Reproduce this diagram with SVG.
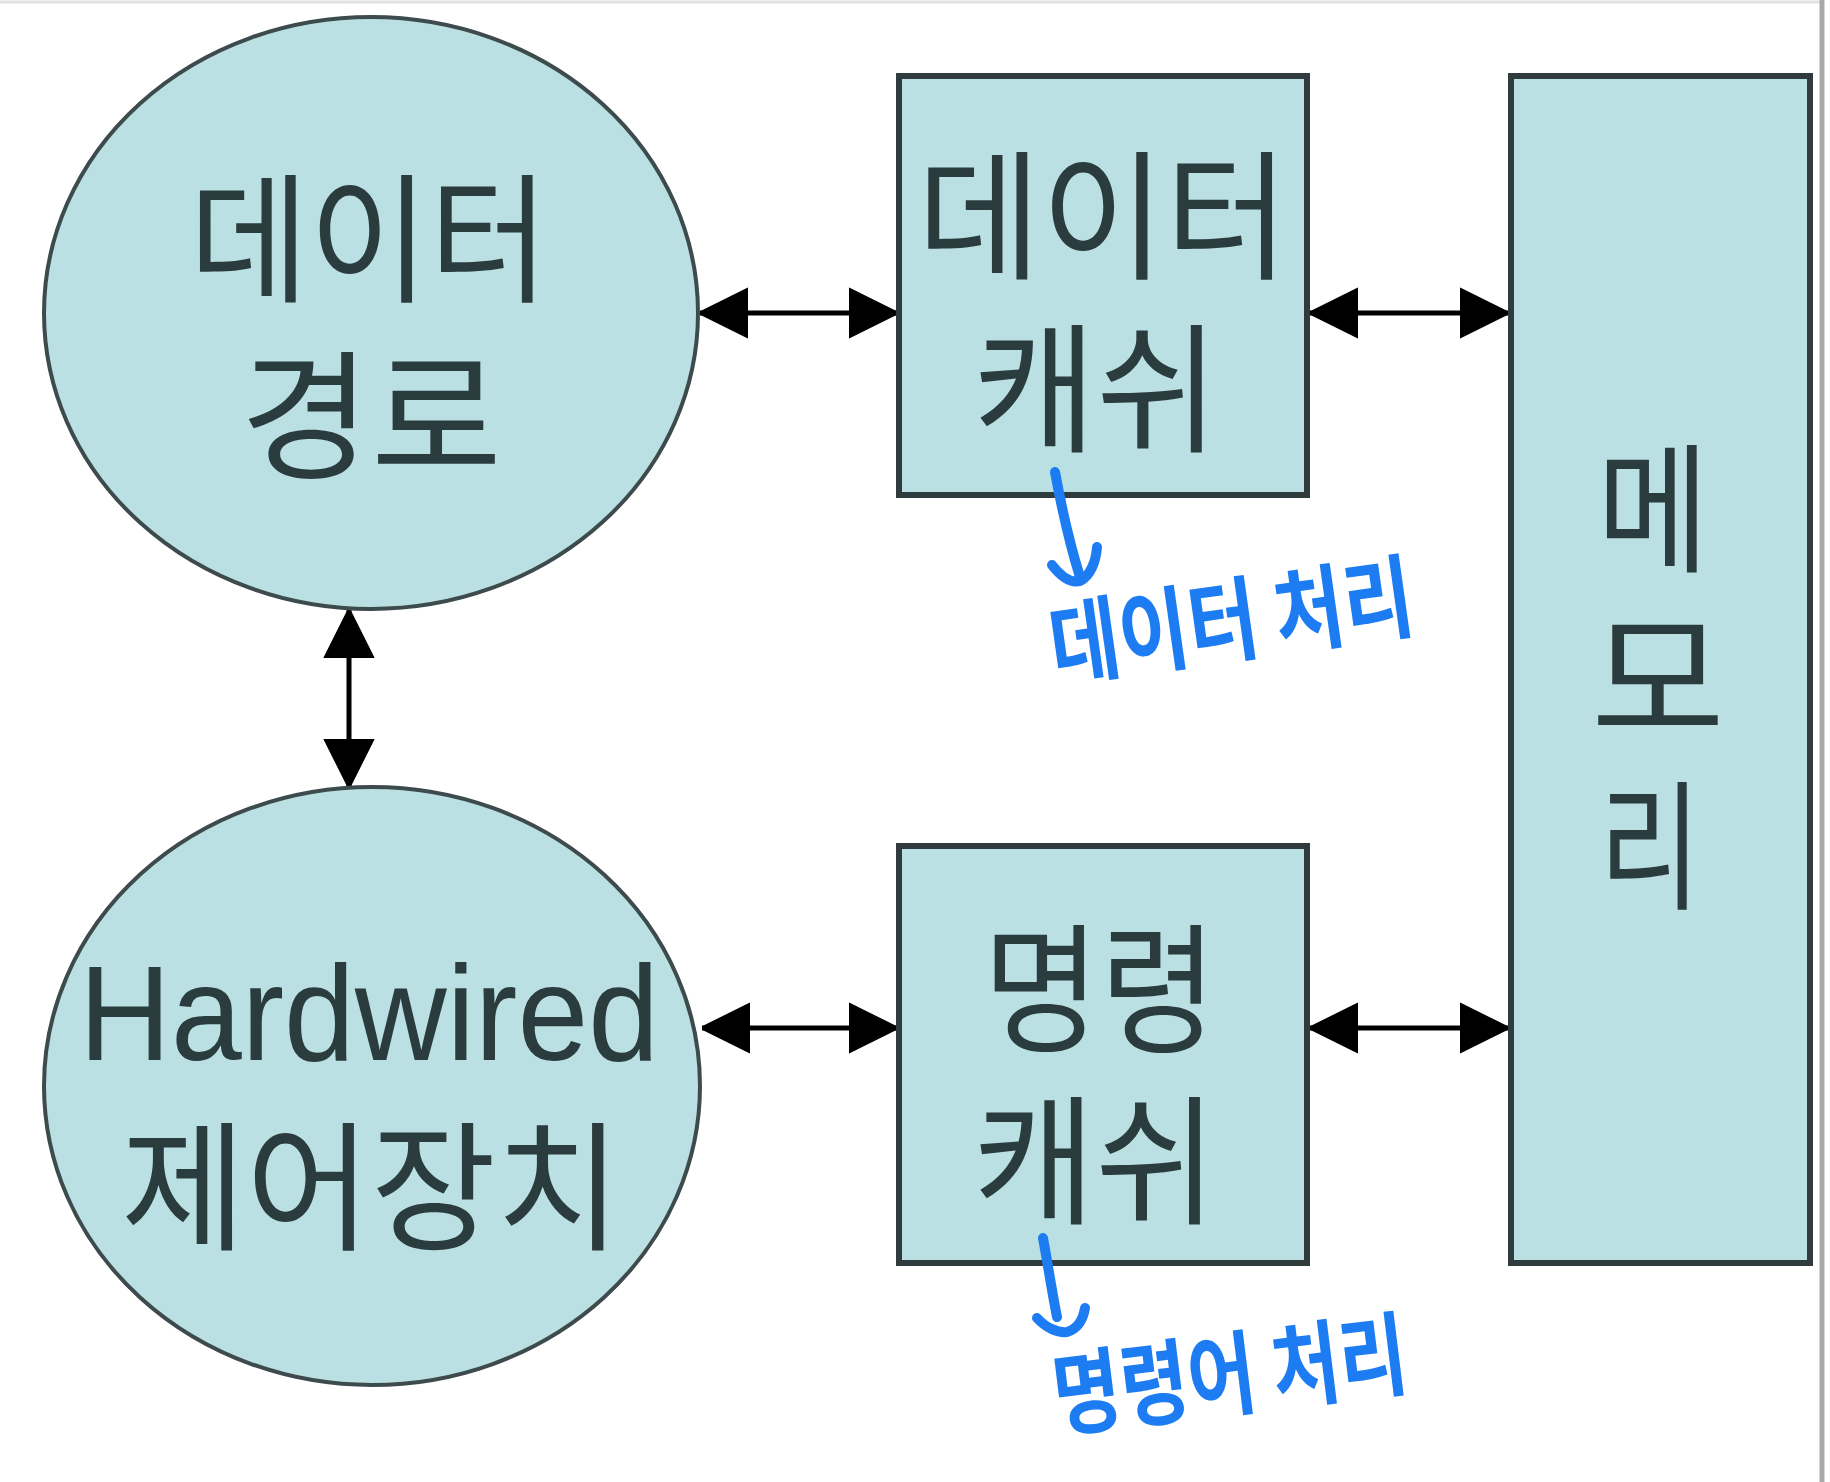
<svg xmlns="http://www.w3.org/2000/svg" width="1830" height="1482" viewBox="0 0 1830 1482">
<style>
.shape{fill:#bbe0e4;}
.ell{stroke:#3e4b4d;stroke-width:4;}
.box{stroke:#2f3b3d;stroke-width:6;}
.lbl{font-family:"Noto Sans CJK KR","Noto Sans",sans-serif;font-size:140px;fill:#2b3c3f;text-anchor:middle;}
.en{font-family:"Liberation Sans",Arial,sans-serif;font-size:135px;fill:#2b3c3f;text-anchor:middle;}
.conn{stroke:#000;stroke-width:5;fill:none;marker-start:url(#ah);marker-end:url(#ah);}
.note{font-family:"Noto Sans CJK KR","Noto Sans",sans-serif;font-weight:700;font-size:92px;fill:#1d7cf2;text-anchor:middle;}
.pen{stroke:#1d7cf2;stroke-width:10;fill:none;stroke-linecap:round;stroke-linejoin:round;}
</style>
<defs>
<marker id="ah" viewBox="0 0 48 52" refX="48" refY="26" markerWidth="48" markerHeight="52" markerUnits="userSpaceOnUse" orient="auto-start-reverse">
<path d="M0,2 L48,26 L0,50 z" fill="#000" stroke="#000" stroke-width="3" stroke-linejoin="round"/>
</marker>
</defs>
<rect x="0" y="0" width="1830" height="1482" fill="#ffffff"/>
<line x1="0" y1="2" x2="1822" y2="2" stroke="#e2e2e2" stroke-width="3"/>
<line x1="1822" y1="0" x2="1822" y2="1482" stroke="#a9a9a9" stroke-width="5"/>

<g id="connectors">
<line class="conn" x1="700" y1="313" x2="897" y2="313"/>
<line class="conn" x1="1310" y1="313" x2="1508" y2="313"/>
<line class="conn" x1="702" y1="1028" x2="897" y2="1028"/>
<line class="conn" x1="1310" y1="1028" x2="1508" y2="1028"/>
<line class="conn" x1="349" y1="610" x2="349" y2="787"/>
</g>

<g id="node-datapath">
<ellipse class="shape ell" cx="371" cy="313" rx="327" ry="296"/>
<text class="lbl" x="369" y="291" textLength="360" lengthAdjust="spacingAndGlyphs">데이터</text>
<text class="lbl" x="371" y="468" textLength="262" lengthAdjust="spacingAndGlyphs">경로</text>
</g>

<g id="node-control">
<ellipse class="shape ell" cx="372" cy="1086" rx="328" ry="299"/>
<text class="en" x="369" y="1060" textLength="580" lengthAdjust="spacingAndGlyphs">Hardwired</text>
<text class="lbl" x="371" y="1239" textLength="500" lengthAdjust="spacingAndGlyphs">제어장치</text>
</g>

<g id="node-dcache">
<rect class="shape box" x="899" y="76" width="408" height="419"/>
<text class="lbl" x="1103" y="268" textLength="372" lengthAdjust="spacingAndGlyphs">데이터</text>
<text class="lbl" x="1096" y="441" textLength="246" lengthAdjust="spacingAndGlyphs">캐쉬</text>
</g>

<g id="node-icache">
<rect class="shape box" x="899" y="846" width="408" height="417"/>
<text class="lbl" x="1100" y="1041" textLength="234" lengthAdjust="spacingAndGlyphs">명령</text>
<text class="lbl" x="1095" y="1213" textLength="244" lengthAdjust="spacingAndGlyphs">캐쉬</text>
</g>

<g id="node-memory">
<rect class="shape box" x="1511" y="76" width="299" height="1187"/>
<text class="lbl" x="1653" y="561" textLength="112" lengthAdjust="spacingAndGlyphs">메</text>
<text class="lbl" x="1658" y="730" textLength="134" lengthAdjust="spacingAndGlyphs">모</text>
<text class="lbl" x="1650" y="898" textLength="102" lengthAdjust="spacingAndGlyphs">리</text>
</g>

<g id="note-data">
<path class="pen" d="M1055,472 C1062,510 1070,545 1080,577"/>
<path class="pen" d="M1052,565 C1062,578 1072,583 1080,581 C1090,576 1096,562 1097,547"/>
<text class="note" x="1236" y="654" transform="rotate(-8 1236 654)" textLength="366" lengthAdjust="spacingAndGlyphs">데이터 처리</text>
</g>

<g id="note-inst">
<path class="pen" d="M1043,1238 C1048,1265 1052,1292 1057,1317"/>
<path class="pen" d="M1037,1318 C1046,1328 1058,1333 1067,1332 C1077,1329 1083,1320 1085,1308"/>
<text class="note" x="1234" y="1408" transform="rotate(-7 1234 1408)" textLength="356" lengthAdjust="spacingAndGlyphs">명령어 처리</text>
</g>
</svg>
